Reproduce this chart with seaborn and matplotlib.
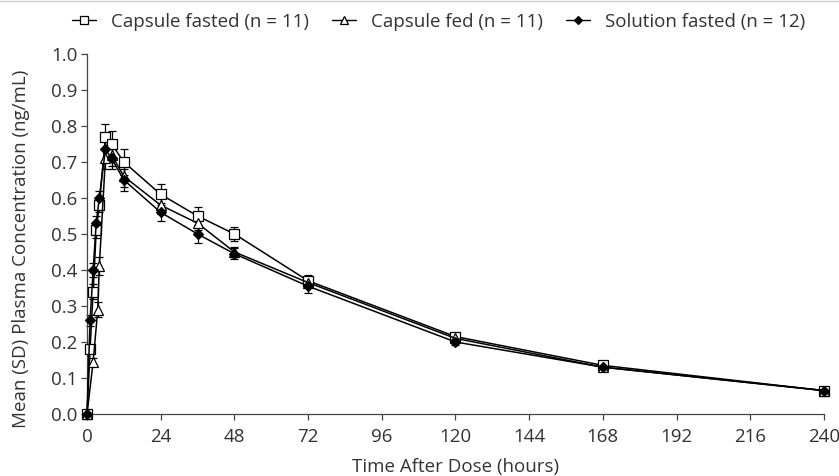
import numpy as np
import pandas as pd
import seaborn as sns
import matplotlib.pyplot as plt
from matplotlib.lines import Line2D

# data
times_fasted = [0, 1, 2, 3, 4, 6, 8, 12, 24, 36, 48, 72, 120, 168, 240]
conc_fasted = [0, 0.18, 0.34, 0.51, 0.58, 0.77, 0.75, 0.70, 0.61, 0.55, 0.50, 0.37, 0.215, 0.135, 0.065]
sd_fasted = [0, 0.012, 0.02, 0.02, 0.02, 0.035, 0.035, 0.035, 0.03, 0.025, 0.02, 0.015, 0.01, 0.008, 0.008]

times_fed = [0, 2, 3.5, 4, 6, 8, 12, 24, 36, 48, 72, 120, 168, 240]
conc_fed = [0, 0.145, 0.29, 0.41, 0.71, 0.72, 0.66, 0.58, 0.53, 0.45, 0.365, 0.21, 0.13, 0.065]
sd_fed = [0, 0.01, 0.02, 0.025, 0.03, 0.03, 0.03, 0.025, 0.02, 0.015, 0.01, 0.01, 0.008, 0.008]

times_sol = [0, 1, 2, 3, 4, 6, 8, 12, 24, 36, 48, 72, 120, 168, 240]
conc_sol = [0, 0.26, 0.40, 0.53, 0.60, 0.735, 0.71, 0.65, 0.56, 0.50, 0.445, 0.355, 0.20, 0.13, 0.065]
sd_sol = [0, 0.015, 0.02, 0.02, 0.02, 0.03, 0.03, 0.03, 0.025, 0.025, 0.015, 0.02, 0.008, 0.008, 0.008]

labels = ['Capsule fasted (n = 11)', 'Capsule fed (n = 11)', 'Solution fasted (n = 12)']

frames = []
for lab, t, c, s in zip(labels, [times_fasted, times_fed, times_sol],
                        [conc_fasted, conc_fed, conc_sol], [sd_fasted, sd_fed, sd_sol]):
    frames.append(pd.DataFrame({'time': t, 'conc': c, 'sd': s, 'group': lab}))
df = pd.concat(frames, ignore_index=True)

sns.set_style('ticks')
plt.rcParams['font.family'] = ['Open Sans', 'DejaVu Sans']
txt = '#333333'
plt.rcParams['text.color'] = txt
plt.rcParams['axes.labelcolor'] = txt
fs = 13.5

fig = plt.figure(figsize=(8.39, 4.76), dpi=100)
ax = fig.add_axes([0.1037, 0.1303, 0.8783, 0.7563])

markers = {labels[0]: 's', labels[1]: '^', labels[2]: 'D'}
faces = {labels[0]: 'white', labels[1]: 'white', labels[2]: 'black'}
sizes = {labels[0]: 6.5, labels[1]: 7, labels[2]: 5}

# error bars first, then lines and markers on top
for lab in labels:
    g = df[df.group == lab]
    ax.errorbar(g.time, g.conc, yerr=g.sd, fmt='none', ecolor='black',
                elinewidth=0.9, capsize=3, capthick=0.9, zorder=2, clip_on=False)

handles = []
for lab in labels:
    g = df[df.group == lab]
    sns.lineplot(data=g, x='time', y='conc', ax=ax, color='black', lw=1.1,
                 marker=markers[lab], markersize=sizes[lab], markerfacecolor=faces[lab],
                 markeredgecolor='black', markeredgewidth=0.9, zorder=3, legend=False,
                 clip_on=False)
    handles.append(Line2D([], [], color='black', lw=1.0, marker=markers[lab],
                          markersize=sizes[lab] - 1, markerfacecolor=faces[lab],
                          markeredgecolor='black', markeredgewidth=0.9))

ax.set_xlim(0, 240)
ax.set_ylim(0, 1.0)
ax.set_xticks(np.arange(0, 241, 24))
ax.set_yticks(np.arange(0, 1.01, 0.1))
ax.set_yticklabels([f'{v:.1f}' for v in np.arange(0, 1.01, 0.1)])
ax.tick_params(labelsize=fs, length=4, width=0.9, colors='#444444', labelcolor=txt, pad=3)
ax.tick_params(axis='x', pad=6)
ax.set_xlabel('Time After Dose (hours)', fontsize=fs, labelpad=9)
ax.set_ylabel('Mean (SD) Plasma Concentration (ng/mL)', fontsize=fs)
ax.yaxis.set_label_coords(-0.078, 0.46)
sns.despine(ax=ax)
for sp in ['left', 'bottom']:
    ax.spines[sp].set_color('#444444')
    ax.spines[sp].set_linewidth(0.9)

fig.legend(handles, labels, loc='center', bbox_to_anchor=(0.523, 0.954), ncol=3,
           frameon=False, fontsize=fs, handlelength=1.3, columnspacing=1.2, handletextpad=0.8)
fig.add_artist(Line2D([0, 1], [0.998, 0.998], color='#cccccc', lw=1, transform=fig.transFigure))

plt.savefig('out.png', dpi=100)
